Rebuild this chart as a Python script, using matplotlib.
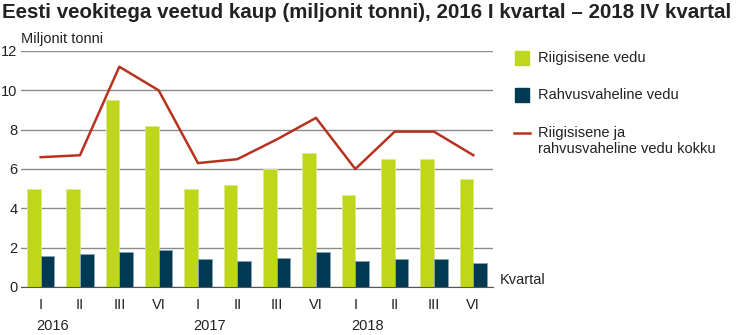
import numpy as np
import matplotlib
matplotlib.use("Agg")
import matplotlib.pyplot as plt

plt.rcParams['font.family'] = ['Liberation Sans', 'DejaVu Sans']

# data
quarters = ["I", "II", "III", "VI", "I", "II", "III", "VI", "I", "II", "III", "VI"]
years = ["2016", "2017", "2018"]
year_pos = [0, 4, 8]
domestic = [5.0, 5.0, 9.5, 8.2, 5.0, 5.2, 6.0, 6.8, 4.7, 6.5, 6.5, 5.5]
international = [1.6, 1.7, 1.8, 1.9, 1.4, 1.3, 1.5, 1.8, 1.3, 1.4, 1.4, 1.2]
total = [6.6, 6.7, 11.2, 10.0, 6.3, 6.5, 7.5, 8.6, 6.0, 7.9, 7.9, 6.7]

green = "#bed71a"
navy = "#003a52"
red = "#b8321f"

fig = plt.figure(figsize=(7.41, 3.35), dpi=100)
ax = fig.add_axes([21/741, 48/335, 472/741, 236/335])

x = np.arange(len(quarters))
w = 0.35
ax.bar(x - w/2, domestic, w, color=green, edgecolor="#dbe98a", linewidth=0.6, zorder=2)
ax.bar(x + w/2, international, w, color=navy, edgecolor="#8aa3b0", linewidth=0.6, zorder=2)
ax.plot(x, total, color=red, linewidth=1.8, zorder=3)

ax.set_xlim(-0.5, 11.5)
ax.set_ylim(0, 12)
ax.set_yticks(range(0, 13, 2))
ax.yaxis.grid(True, color="#8c8c8c", linewidth=1)
ax.set_axisbelow(True)
for s in ["top", "right", "left"]:
    ax.spines[s].set_visible(False)
ax.spines["bottom"].set_color("#555555")
ax.tick_params(axis="y", length=0, pad=2.5, labelsize=10.5, labelcolor="#222222")
ax.tick_params(axis="x", length=0, pad=8, labelsize=10.5, labelcolor="#222222")
ax.set_yticklabels([str(v) for v in range(0, 13, 2)], ha="right")
ax.set_xticks(x)
ax.set_xticklabels(quarters)
for p, yr in zip(year_pos, years):
    ax.text(p + 0.3, -0.135, yr, transform=ax.get_xaxis_transform(), ha="center", va="top",
            fontsize=10.5, color="#222222")

ax.text(0, 1.02, "Miljonit tonni", transform=ax.transAxes, ha="left", va="bottom",
        fontsize=10.5, color="#222222")
ax.text(1.015, 0.0, "Kvartal", transform=ax.transAxes, ha="left", va="bottom",
        fontsize=10.5, color="#222222")

fig.text(2/741, 1 - 13/335, "Eesti veokitega veetud kaup (miljonit tonni), 2016 I kvartal \u2013 2018 IV kvartal",
         ha="left", va="center", fontsize=14.8, fontweight="bold", color="#222222")

# legend drawn by hand
fig.patches.append(plt.Rectangle((515/741, 1 - 65/335), 14/741, 14/335, transform=fig.transFigure,
                                 color=green))
fig.patches.append(plt.Rectangle((515/741, 1 - 102/335), 14/741, 14/335, transform=fig.transFigure,
                                 color=navy))
fig.lines.append(plt.Line2D([514/741, 530/741], [1 - 133/335, 1 - 133/335], transform=fig.transFigure,
                            color=red, linewidth=1.8))
fig.text(538/741, 1 - 58/335, "Riigisisene vedu", ha="left", va="center", fontsize=10.5, color="#222222")
fig.text(538/741, 1 - 95/335, "Rahvusvaheline vedu", ha="left", va="center", fontsize=10.5, color="#222222")
fig.text(538/741, 1 - 141/335, "Riigisisene ja\nrahvusvaheline vedu kokku", ha="left", va="center",
         fontsize=10.5, color="#222222", linespacing=1.1)

fig.savefig("out.png", dpi=100)
